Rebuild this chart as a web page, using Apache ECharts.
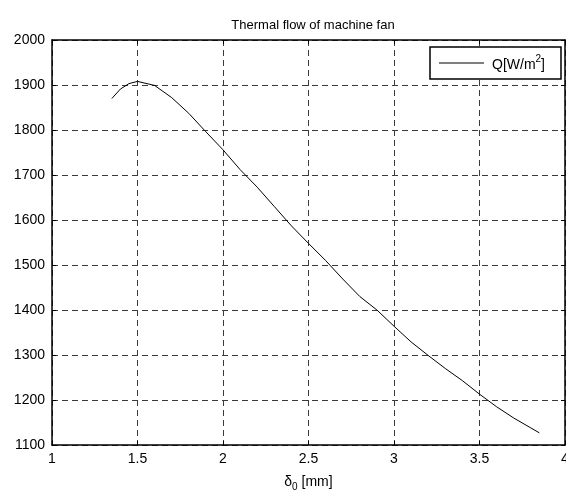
<!DOCTYPE html>
<html>
<head>
<meta charset="utf-8">
<script src="https://cdn.jsdelivr.net/npm/echarts@6/dist/echarts.min.js"></script>
<style>
  html, body { margin: 0; padding: 0; background: #fff; }
  #chart { width: 566px; height: 491px; }
</style>
</head>
<body>
<div id="chart"></div>
<script>
const delta = [1.35, 1.4, 1.45, 1.5, 1.6, 1.7, 1.8, 1.9, 2.0, 2.1, 2.2, 2.3, 2.4, 2.5, 2.6, 2.7,
  2.8, 2.9, 3.0, 3.1, 3.2, 3.3, 3.4, 3.5, 3.6, 3.7, 3.8, 3.85];
const heatFlow = [1870, 1891, 1903, 1908, 1899, 1872, 1837, 1796, 1756, 1712, 1673, 1630, 1587, 1548, 1510, 1469,
  1430, 1400, 1364, 1329, 1299, 1270, 1243, 1213, 1185, 1160, 1138, 1127];
const xTicks = ['1', '1.5', '2', '2.5', '3', '3.5', '4'];

const font = 'Liberation Sans, Arial, sans-serif';
const chart = echarts.init(document.getElementById('chart'));

const tickStyle = { show: true, inside: true, length: 4, lineStyle: { color: '#000', width: 1 } };
const gridLine = { show: true, lineStyle: { color: '#3a3a3a', width: 1, type: [6, 4] } };

chart.setOption({
  backgroundColor: '#fff',
  animation: false,
  title: {
    text: 'Thermal flow of machine fan',
    left: 308,
    top: 14,
    textAlign: 'center',
    textStyle: { fontFamily: font, fontSize: 13, fontWeight: 'normal', color: '#000' },
  },
  legend: {
    left: 430,
    top: 47,
    orient: 'vertical',
    padding: [7, 16, 7, 9],
    borderColor: '#000',
    borderWidth: 1.5,
    backgroundColor: '#fff',
    itemWidth: 45,
    itemHeight: 14,
    itemGap: 0,
    formatter: () => '{b|Q[W/m}{p|2}{a|]}',
    textStyle: {
      fontFamily: font, fontSize: 14, color: '#000',
      rich: {
        b: { fontFamily: font, fontSize: 14, color: '#000', lineHeight: 18, verticalAlign: 'bottom', padding: [0, 0, 0, 3] },
        a: { fontFamily: font, fontSize: 14, color: '#000', lineHeight: 18, verticalAlign: 'bottom' },
        p: { fontFamily: font, fontSize: 10, color: '#000', lineHeight: 10, verticalAlign: 'top' },
      },
    },
    data: [{ name: 'Q[W/m²]', icon: 'path://M0,0L45,0L45,1L0,1Z' }],
  },
  grid: { left: 52, right: 1, top: 40, bottom: 46, outerBoundsMode: 'none', containLabel: false },
  xAxis: [
    {
      type: 'value',
      min: 1,
      max: 4,
      interval: 0.5,
      name: '{a|δ}{s|0}{a| [mm]}',
      nameLocation: 'middle',
      nameGap: 28,
      nameTextStyle: {
        rich: {
          a: { fontFamily: font, fontSize: 14, color: '#000' },
          s: { fontFamily: font, fontSize: 10, color: '#000', padding: [9, 0, 0, 0] },
        },
      },
      axisLine: { show: true, lineStyle: { color: '#000', width: 1.5 } },
      axisTick: tickStyle,
      splitLine: gridLine,
      axisLabel: {
        color: '#000', fontFamily: font, fontSize: 14, margin: 7,
        formatter: (v) => xTicks[Math.round((v - 1) / 0.5)],
      },
    },
    {
      type: 'value',
      position: 'top',
      min: 1,
      max: 4,
      interval: 0.5,
      axisLine: { show: true, lineStyle: { color: '#000', width: 1.5 } },
      axisTick: tickStyle,
      splitLine: { show: false },
      axisLabel: { show: false },
    },
  ],
  yAxis: [
    {
      type: 'value',
      min: 1100,
      max: 2000,
      interval: 100,
      axisLine: { show: true, lineStyle: { color: '#000', width: 1.5 } },
      axisTick: tickStyle,
      splitLine: gridLine,
      axisLabel: { color: '#000', fontFamily: font, fontSize: 14, margin: 7, formatter: (v) => String(v) },
    },
    {
      type: 'value',
      position: 'right',
      min: 1100,
      max: 2000,
      interval: 100,
      axisLine: { show: true, lineStyle: { color: '#000', width: 1.5 } },
      axisTick: tickStyle,
      splitLine: { show: false },
      axisLabel: { show: false },
    },
  ],
  series: [
    {
      name: 'Q[W/m²]',
      type: 'line',
      data: delta.map((d, i) => [d, heatFlow[i]]),
      symbol: 'none',
      smooth: false,
      lineStyle: { color: '#000', width: 1 },
      itemStyle: { color: '#000' },
    },
  ],
});
</script>
</body>
</html>
